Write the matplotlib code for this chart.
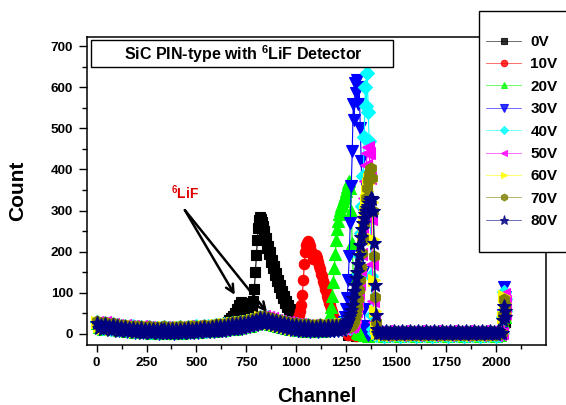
import numpy as np
import matplotlib
matplotlib.use("Agg")
import matplotlib.pyplot as plt
from matplotlib.patches import Rectangle
from matplotlib.ticker import FixedLocator

plt.rcParams['font.family'] = ['Liberation Sans', 'DejaVu Sans']
plt.rcParams['font.weight'] = 'bold'
plt.rcParams['mathtext.fontset'] = 'custom'
plt.rcParams['mathtext.rm'] = 'Liberation Sans:bold'
plt.rcParams['mathtext.bf'] = 'Liberation Sans:bold'
plt.rcParams['mathtext.it'] = 'Liberation Sans:bold'

# ---------------- data ----------------
labels = ['0V', '10V', '20V', '30V', '40V', '50V', '60V', '70V', '80V']
colors = ['#000000', '#FF0000', '#00FF00', '#0000FF', '#00FFFF',
          '#FF00FF', '#FFFF00', '#808000', '#000080']
markers = ['s', 'o', '^', 'v', 'D', '<', '>', 'h', '*']

# common background band (channels 0..1400, step 10)
bg_channels = list(range(0, 1401, 10))
bg_counts = [
    26, 15, 22, 12, 24, 14, 19, 10, 21, 12,      # 0-90
    18, 8, 16, 9, 17, 6, 14, 8, 15, 4,           # 100-190
    13, 5, 14, 3, 12, 4, 13, 2, 11, 4,           # 200-290
    12, 1, 11, 3, 13, 2, 12, 3, 11, 1,           # 300-390
    12, 3, 13, 2, 12, 4, 14, 3, 13, 5,           # 400-490
    15, 4, 14, 6, 16, 5, 15, 7, 17, 6,           # 500-590
    18, 8, 19, 8, 20, 10, 21, 11, 23, 12,        # 600-690
    24, 13, 26, 15, 27, 17, 29, 19, 31, 22,      # 700-790
    34, 25, 38, 27, 39, 26, 37, 24, 34, 21,      # 800-890
    31, 18, 28, 16, 26, 14, 24, 12, 22, 10,      # 900-990
    21, 9, 19, 8, 18, 7, 18, 6, 17, 7,           # 1000-1090
    17, 6, 18, 7, 17, 7, 18, 8, 18, 9,           # 1100-1190
    19, 9, 20, 10, 21, 11, 22, 12, 22, 12,       # 1200-1290
    21, 11, 21, 12, 20, 10, 19, 9, 18, 8,        # 1300-1390
    16,                                          # 1400
]

# flat region after the peaks (channels 1250..2020, step 10)
tail_channels = list(range(1250, 2021, 10))
tail_counts = [5, -1, 4, 0, 6, -2, 3, 1, 5, -1, 4, -2, 6, 0, 3, -1, 5, 1, 4, -2,
               6, 0, 3, -1, 5, 1, 4, -2, 6, 0, 3, -1, 5, 1, 4, -2, 6, 0, 3, -1,
               5, 1, 4, -2, 6, 0, 3, -1, 5, 1, 4, -2, 6, 0, 3, -1, 5, 1, 4, -2,
               6, 0, 3, -1, 5, 1, 4, -2, 6, 0, 3, -1, 5, 1, 4, -2, 6, 0]

# small offsets of each series' background level
level_offsets = [1, 2, 1, -1, 3, 4, 3, 5, 0]
tail_offsets = [-2, -2, -2, -1, -2, 0, -1, -1, 1]
zero_from = [1260, 1260, 1300, 1300, 1300, 1300, 1300, 1300, 1300]

# terminal spike
spike_channels = [2030, 2035, 2040, 2044, 2047]
spike_counts = [
    [2, 25, 50, 45, 30],
    [2, 30, 55, 50, 35],
    [2, 30, 60, 55, 40],
    [3, 45, 115, 90, 60],
    [3, 40, 102, 85, 55],
    [3, 45, 98, 80, 50],
    [3, 40, 92, 75, 50],
    [3, 45, 86, 70, 50],
    [3, 35, 68, 55, 40],
]

# peak regions (5-channel steps starting at peak_start)
peak_start = [660, 990, 1150, 1230, 1280, 1280, 1280, 1280, 1235]
peak_0V = [28, 34, 30, 38, 35, 44, 40, 52, 48, 60, 56, 70, 66, 78, 75, 72, 62, 58, 50, 54,
           46, 52, 48, 56, 60, 80, 110, 150, 192, 228, 258, 276, 284, 280, 272, 262, 250, 232,
           234, 210, 214, 194, 198, 176, 180, 160, 164, 144, 148, 128, 132, 114, 118, 100, 104,
           88, 92, 76, 80, 66, 70, 56, 60, 48, 52, 40, 44, 34, 36, 26, 24]
peak_10V = [24, 28, 30, 34, 38, 45, 55, 70, 95, 130, 170, 200, 215, 222, 226, 222, 214, 202,
            194, 182, 186, 190, 192, 184, 176, 164, 158, 146, 140, 128, 122, 110, 104, 92, 86,
            76, 70, 60, 54, 44, 38, 30, 24, 18]
peak_20V = [18, 22, 28, 36, 48, 66, 92, 125, 160, 195, 228, 255, 275, 292, 302, 310, 316, 322,
            330, 338, 348, 358, 368, 372, 355, 300, 220, 140, 75, 35, 14, 5]
peak_30V = [16, 22, 30, 42, 60, 88, 130, 190, 270, 360, 445, 560, 520, 610, 585, 618, 560,
            600, 500, 420, 300, 150, 60, 20, 6, 2]
peak_40V = [20, 26, 34, 45, 60, 80, 108, 145, 190, 245, 310, 385, 480, 600, 555, 634, 540,
            470, 300, 140, 45, 12, 3]
peak_50V = [20, 25, 32, 42, 55, 72, 95, 122, 155, 195, 240, 285, 330, 372, 410, 440, 455,
            440, 380, 280, 170, 80, 30, 8, 2]
peak_60V = [20, 24, 30, 38, 50, 64, 82, 105, 132, 162, 195, 230, 265, 298, 325, 348, 365,
            376, 382, 372, 320, 230, 130, 55, 15, 3]
peak_70V = [22, 26, 32, 40, 52, 66, 84, 106, 132, 162, 196, 232, 268, 300, 330, 355, 375,
            390, 400, 404, 380, 300, 190, 90, 30, 8, 2]
peak_80V = [16, 18, 20, 24, 28, 33, 40, 48, 58, 70, 88, 104, 120, 135, 150, 170, 192, 215,
            235, 255, 270, 282, 292, 300, 306, 312, 318, 325, 330, 328, 300, 220, 120, 45,
            12, 3]
peak_counts = [peak_0V, peak_10V, peak_20V, peak_30V, peak_40V,
               peak_50V, peak_60V, peak_70V, peak_80V]


def series_xy(i):
    pv = peak_counts[i]
    pc = list(range(peak_start[i], peak_start[i] + 5 * len(pv), 5))
    pts = []
    for c, v in zip(bg_channels, bg_counts):
        if c < pc[0] or (pc[-1] < c < zero_from[i]):
            pts.append((c, v + level_offsets[i]))
    pts += list(zip(pc, pv))
    for c, v in zip(tail_channels, tail_counts):
        if c >= zero_from[i] and c > pc[-1]:
            pts.append((c, v + tail_offsets[i]))
    pts += list(zip(spike_channels, spike_counts[i]))
    pts.sort()
    x = [p[0] for p in pts]
    y = [p[1] for p in pts]
    return x, y


# ---------------- figure ----------------
W, H = 566, 405
fig = plt.figure(figsize=(W / 100, H / 100), dpi=100)
fig.patch.set_facecolor('white')
ax = fig.add_axes([87 / W, 1 - 345 / H, (546 - 87) / W, (345 - 37) / H])
ax.set_xlim(-48, 2250)
ax.set_ylim(-27, 722)

msizes = [7, 7.5, 8, 8.5, 7, 8, 8, 8, 10.5]
handles = []
for i in range(9):
    x, y = series_xy(i)
    ln, = ax.plot(x, y, color=colors[i], lw=0.8, marker=markers[i], ms=msizes[i],
                  mec=colors[i], mfc=colors[i], mew=0.8, zorder=2 + i, label=labels[i])
    handles.append(ln)

for s in ax.spines.values():
    s.set_linewidth(1.1)

ax.set_xticks(list(range(0, 2001, 250)))
ax.xaxis.set_minor_locator(FixedLocator(list(range(125, 2200, 250))))
ax.set_yticks(list(range(0, 701, 100)))
ax.yaxis.set_minor_locator(FixedLocator(list(range(50, 700, 100))))
ax.tick_params(axis='x', which='major', direction='out', length=5, width=1, labelsize=9.7, pad=4)
ax.tick_params(axis='x', which='minor', direction='out', length=3, width=1)
ax.tick_params(axis='y', which='major', direction='out', length=6, width=1, labelsize=9.7, pad=4)
ax.tick_params(axis='y', which='minor', direction='out', length=3.5, width=1)

ax.set_xlabel('Channel', fontsize=14.5, fontweight='bold')
ax.set_ylabel('Count', fontsize=15, fontweight='bold')
ax.xaxis.set_label_coords(0.5, -0.135)
ax.yaxis.set_label_coords(-0.13, 0.5)

# annotation
ax.text(442, 343, '$^{6}$LiF', color='#dd0000', fontsize=10, fontweight='bold',
        ha='center', va='center', zorder=20)
for end in [(692, 95), (853, 53)]:
    ax.annotate('', xy=end, xytext=(442, 301),
                arrowprops=dict(arrowstyle='->', lw=1.8, color='black',
                                mutation_scale=14, shrinkA=0, shrinkB=0), zorder=20)

# title box
fig.add_artist(Rectangle((91 / W, 1 - 67 / H), 302 / W, 27 / H, transform=fig.transFigure,
                         facecolor='white', edgecolor='black', lw=1.0, zorder=5))
fig.text(243 / W, 1 - 54 / H, 'SiC PIN-type with $^{6}$LiF Detector', fontsize=11.5,
         fontweight='bold', ha='center', va='center', zorder=6)

# legend box
fig.add_artist(Rectangle((479 / W, 1 - 252 / H), 120 / W, 241 / H, transform=fig.transFigure,
                         facecolor='white', edgecolor='black', lw=1.0, zorder=5))
leg = fig.legend(handles=handles, loc='upper left', bbox_to_anchor=(486 / W, 1 - 35 / H),
                 frameon=False, markerscale=0.62, handlelength=2.3, handletextpad=0.6,
                 labelspacing=0.55, borderpad=0, borderaxespad=0,
                 prop={'weight': 'bold', 'size': 11})
leg.set_zorder(7)
for h in leg.legend_handles:
    h.set_linewidth(0.5)
    h.set_alpha(0.8)

fig.savefig('out.png', dpi=100, facecolor='white')
